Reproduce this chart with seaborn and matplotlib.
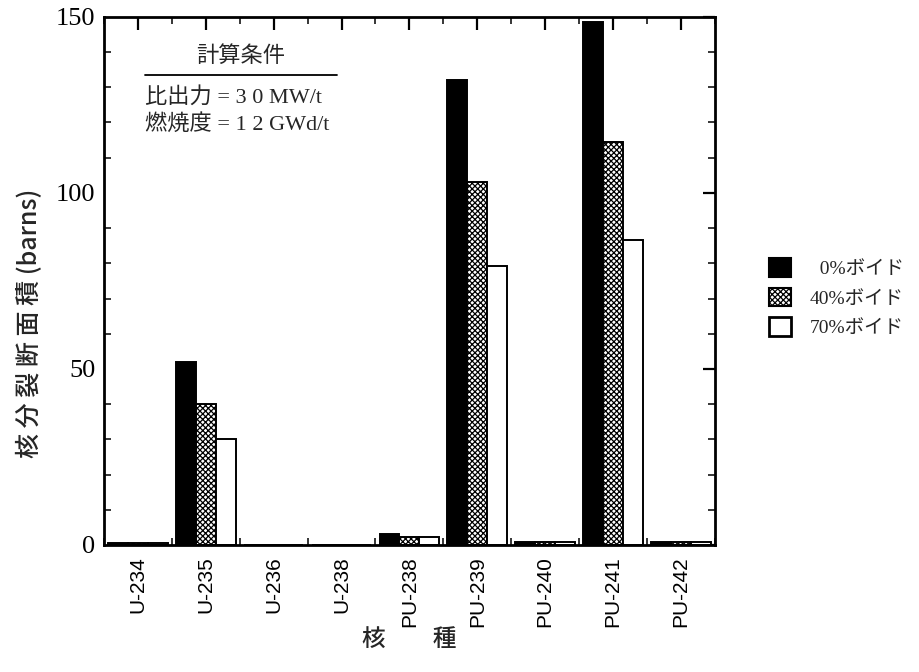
import matplotlib
matplotlib.use('Agg')
import matplotlib.pyplot as plt
import pandas as pd
import seaborn as sns
from matplotlib.patches import Patch
from matplotlib.ticker import MultipleLocator, FixedLocator

# nuclides and fission cross sections (barns)
nuclides = ['U-234', 'U-235', 'U-236', 'U-238', 'PU-238',
            'PU-239', 'PU-240', 'PU-241', 'PU-242']
void_labels = ['0%ボイド', '40%ボイド', '70%ボイド']
void_0 = [0.6, 52.0, 0.1, 0.1, 3.1, 132.0, 0.8, 148.5, 0.8]
void_40 = [0.5, 40.0, 0.1, 0.1, 2.3, 103.0, 0.8, 114.5, 0.8]
void_70 = [0.5, 30.0, 0.1, 0.1, 2.3, 79.3, 0.8, 86.7, 0.8]

rows = []
for lab, vals in zip(void_labels, [void_0, void_40, void_70]):
    for n, v in zip(nuclides, vals):
        rows.append({'nuclide': n, 'void': lab, 'value': v})
df = pd.DataFrame(rows)

sns.set_theme(style='white')
plt.rcParams['font.family'] = ['Liberation Serif', 'Noto Sans CJK JP', 'DejaVu Sans']
plt.rcParams['hatch.linewidth'] = 0.9

fig = plt.figure(figsize=(9.19, 6.72), dpi=100)
ax = fig.add_axes([0.113, 0.189, 0.665, 0.786])

colors = ['black', 'white', 'white']
sns.barplot(data=df, x='nuclide', y='value', hue='void', order=nuclides,
            hue_order=void_labels, palette=colors, width=0.88,
            edgecolor='black', linewidth=1.4, ax=ax, legend=False, saturation=1)

# cross-hatch for 40% void
for p in ax.containers[1]:
    p.set_hatch('xxxxxx')

ax.set_ylim(0, 150)
ax.set_xlim(-0.5, len(nuclides) - 0.5)
ax.yaxis.set_major_locator(MultipleLocator(50))
ax.yaxis.set_minor_locator(MultipleLocator(10))
ax.xaxis.set_minor_locator(FixedLocator([i + 0.5 for i in range(-1, len(nuclides))]))
ax.tick_params(axis='both', which='major', direction='in', length=9, width=1.6,
               top=True, right=True, colors='black')
ax.tick_params(axis='both', which='minor', direction='in', length=5, width=1.3,
               top=True, right=True, bottom=True, left=True)
ax.tick_params(axis='y', labelsize=19, pad=6)
ax.tick_params(axis='x', labelsize=15, labelrotation=90, pad=8)
for lbl in ax.get_xticklabels():
    lbl.set_family(['Liberation Sans', 'DejaVu Sans'])
for s in ax.spines.values():
    s.set_linewidth(2.0)
    s.set_color('black')

ax.set_xlabel('核　　種', fontsize=17, family=['Noto Sans CJK JP'], labelpad=1,
              weight='medium')
ax.set_ylabel('核 分 裂 断 面 積 (barns)', fontsize=18,
              family=['Noto Sans CJK JP', 'DejaVu Sans'], weight='medium')
ax.yaxis.set_label_coords(-0.1, 0.42)

# calculation conditions box
ax.text(0.224, 0.905, '計算条件', transform=ax.transAxes, ha='center', va='bottom',
        fontsize=16, family=['Noto Sans CJK JP'])
ax.plot([0.067, 0.381], [0.89, 0.89], transform=ax.transAxes, color='black', lw=1.3)
ax.text(0.067, 0.848, '比出力 = 3 0 MW/t', transform=ax.transAxes, ha='left',
        va='center', fontsize=16)
ax.text(0.067, 0.797, '燃焼度 = 1 2 GWd/t', transform=ax.transAxes, ha='left',
        va='center', fontsize=16)

handles = [Patch(facecolor='black', edgecolor='black', lw=1.5),
           Patch(facecolor='white', edgecolor='black', hatch='xxxxxx', lw=1.5),
           Patch(facecolor='white', edgecolor='black', lw=2.0)]
ax.legend(handles, ['  0%ボイド', '40%ボイド', '70%ボイド'], loc='center left',
          bbox_to_anchor=(1.06, 0.468), frameon=False, fontsize=14,
          handlelength=1.1, handleheight=1.1, handletextpad=1.0, labelspacing=0.5)

fig.savefig('out.png', dpi=100)
